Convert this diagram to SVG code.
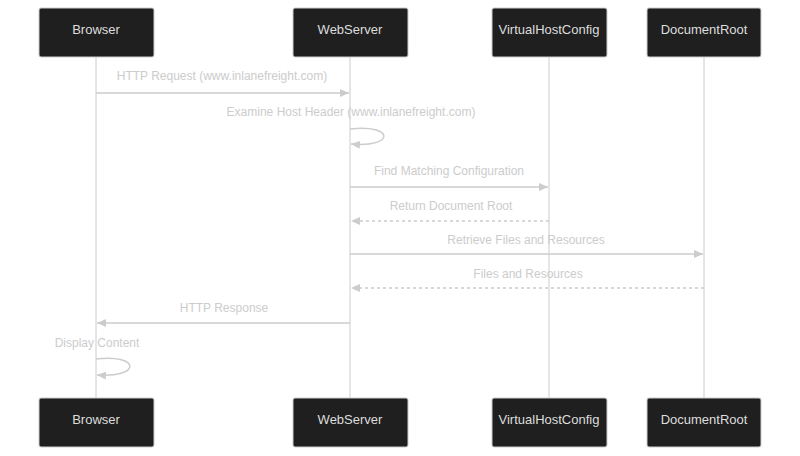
<svg xmlns="http://www.w3.org/2000/svg" width="800" height="456" viewBox="0 0 800 456">
<style>
.box{fill:#1f1f1f;stroke:#cccccc;stroke-width:1}
.bt{font-family:"Liberation Sans",Arial,sans-serif;font-size:13px;fill:#dddddd;text-anchor:middle;dominant-baseline:central}
.mt{font-family:"Liberation Sans",Arial,sans-serif;font-size:12px;fill:#cccccc;text-anchor:middle}
.ml{stroke:#cccccc;stroke-width:1.5;fill:none}
.d{stroke-dasharray:3,3}
.life{stroke:#cccccc;stroke-width:1}
</style>
<defs>
<marker id="ah" markerWidth="10" markerHeight="10" refX="9" refY="5" orient="auto" markerUnits="userSpaceOnUse"><path d="M0,1 L9,5 L0,9 z" fill="#cccccc"/></marker>
</defs>
<rect width="800" height="456" fill="#ffffff"/>
<g id="messages">
<text class="mt" x="222" y="80">HTTP Request (www.inlanefreight.com)</text>
<text class="mt" x="351" y="116">Examine Host Header (www.inlanefreight.com)</text>
<text class="mt" x="449" y="175">Find Matching Configuration</text>
<text class="mt" x="451" y="210">Return Document Root</text>
<text class="mt" x="526" y="244">Retrieve Files and Resources</text>
<text class="mt" x="528" y="278">Files and Resources</text>
<text class="mt" x="224" y="312">HTTP Response</text>
<text class="mt" x="97" y="347">Display Content</text>
</g>
<g id="lifelines">
<line class="life" x1="96" y1="57" x2="96" y2="398"/>
<line class="life" x1="350" y1="57" x2="350" y2="398"/>
<line class="life" x1="549" y1="57" x2="549" y2="398"/>
<line class="life" x1="704" y1="57" x2="704" y2="398"/>
</g>
<g id="connectors">
<line class="ml" x1="96" y1="93" x2="349" y2="93" marker-end="url(#ah)"/>
<path class="ml" d="M350,129 C395,124 395,148 351,144" marker-end="url(#ah)"/>
<line class="ml" x1="350" y1="187" x2="548" y2="187" marker-end="url(#ah)"/>
<line class="ml d" x1="549" y1="221" x2="351" y2="221" marker-end="url(#ah)"/>
<line class="ml" x1="350" y1="254" x2="703" y2="254" marker-end="url(#ah)"/>
<line class="ml d" x1="704" y1="288" x2="351" y2="288" marker-end="url(#ah)"/>
<line class="ml" x1="350" y1="323" x2="97" y2="323" marker-end="url(#ah)"/>
<path class="ml" d="M96,359 C141,354 141,378 97,375" marker-end="url(#ah)"/>
</g>
<g id="browser-top"><rect class="box" x="39" y="8" width="115" height="49" rx="2"/><text class="bt" x="96" y="29">Browser</text></g>
<g id="webserver-top"><rect class="box" x="293" y="8" width="115" height="49" rx="2"/><text class="bt" x="350" y="29">WebServer</text></g>
<g id="vhc-top"><rect class="box" x="492" y="8" width="115" height="49" rx="2"/><text class="bt" x="549" y="29">VirtualHostConfig</text></g>
<g id="docroot-top"><rect class="box" x="647" y="8" width="114" height="49" rx="2"/><text class="bt" x="704" y="29">DocumentRoot</text></g>
<g id="browser-bottom"><rect class="box" x="39" y="398" width="115" height="49" rx="2"/><text class="bt" x="96" y="419">Browser</text></g>
<g id="webserver-bottom"><rect class="box" x="293" y="398" width="115" height="49" rx="2"/><text class="bt" x="350" y="419">WebServer</text></g>
<g id="vhc-bottom"><rect class="box" x="492" y="398" width="115" height="49" rx="2"/><text class="bt" x="549" y="419">VirtualHostConfig</text></g>
<g id="docroot-bottom"><rect class="box" x="647" y="398" width="114" height="49" rx="2"/><text class="bt" x="704" y="419">DocumentRoot</text></g>
</svg>
